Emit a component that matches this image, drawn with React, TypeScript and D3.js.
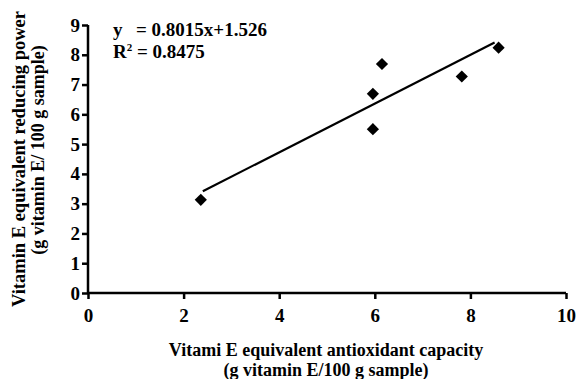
import { useEffect, useRef } from 'react';
import * as d3 from 'd3';

// data
const xValues = [2.36, 5.96, 5.96, 6.15, 7.82, 8.59];
const yValues = [3.13, 5.5, 6.69, 7.69, 7.27, 8.24];
const xTicks = [0, 2, 4, 6, 8, 10];
const yTicks = [0, 1, 2, 3, 4, 5, 6, 7, 8, 9];
const slope = 0.8015;
const intercept = 1.526;
const r2 = '0.8475';

export default function App() {
  const svgRef = useRef<SVGSVGElement>(null);

  useEffect(() => {
    const width = 576;
    const height = 379;
    const svg = d3.select(svgRef.current);
    svg.selectAll('*').remove();
    svg.attr('width', width).attr('height', height);

    const font = 'Liberation Serif';
    const margin = { top: 25, right: 9, bottom: 86, left: 88 };

    const x = d3.scaleLinear().domain([0, 10]).range([margin.left, width - margin.right - 1]);
    const y = d3.scaleLinear().domain([0, 9]).range([height - margin.bottom, margin.top]);

    // axes
    const xAxis = svg.append('g')
      .attr('transform', `translate(0,${y(0)})`)
      .call(d3.axisBottom(x).tickValues(xTicks).tickSize(6).tickPadding(10).tickFormat(d3.format('d')));
    const yAxis = svg.append('g')
      .attr('transform', `translate(${x(0)},0)`)
      .call(d3.axisLeft(y).tickValues(yTicks).tickSize(6).tickPadding(2).tickFormat(d3.format('d')));

    [xAxis, yAxis].forEach(ax => {
      ax.select('.domain').attr('stroke', '#000').attr('stroke-width', 2.5);
      ax.selectAll('.tick line').attr('stroke', '#000').attr('stroke-width', 2.5);
      ax.selectAll('.tick text')
        .attr('fill', '#000')
        .style('font-family', font)
        .style('font-weight', 'bold')
        .style('font-size', '19px');
    });
    // straight domain lines, no end hooks
    xAxis.select('.domain').attr('d', `M${x(0)},0H${x(10)}`);
    yAxis.select('.domain').attr('d', `M0,${y(0)}V${y(9)}`);

    // trend line
    const x0 = d3.min(xValues)!;
    const x1 = d3.max(xValues)!;
    svg.append('line')
      .attr('x1', x(x0) + 2)
      .attr('y1', y(slope * x0 + intercept))
      .attr('x2', x(x1) - 4)
      .attr('y2', y(slope * x1 + intercept))
      .attr('stroke', '#000')
      .attr('stroke-width', 2.2);

    // points
    const diamond = d3.symbol().type(d3.symbolDiamond2).size(95);
    svg.selectAll('path.pt')
      .data(xValues.map((v, i) => [v, yValues[i]]))
      .enter()
      .append('path')
      .attr('class', 'pt')
      .attr('d', diamond)
      .attr('transform', d => `translate(${x(d[0])},${y(d[1])})`)
      .attr('fill', '#000');

    const txt = (t: d3.Selection<SVGTextElement, unknown, null, undefined>, size = 19) =>
      t.style('font-family', font).style('font-weight', 'bold').style('font-size', `${size}px`)
        .attr('fill', '#000');

    // equation text
    const eq = txt(svg.append('text')).attr('x', 113).attr('y', 36);
    eq.append('tspan').text('y');
    eq.append('tspan').attr('x', 136).text(`= ${slope}x+${intercept}`);

    const rt = txt(svg.append('text')).attr('x', 113).attr('y', 58);
    rt.append('tspan').text('R');
    rt.append('tspan').style('font-size', '11px').attr('dy', -7).text('2');
    rt.append('tspan').attr('dy', 7).text(` = ${r2}`);

    // axis titles
    txt(svg.append('text'), 18).attr('text-anchor', 'middle')
      .attr('x', 326).attr('y', 356).text('Vitami E equivalent antioxidant capacity');
    txt(svg.append('text'), 18).attr('text-anchor', 'middle')
      .attr('x', 326).attr('y', 376).text('(g vitamin E/100 g sample)');

    txt(svg.append('text'), 18.5).attr('text-anchor', 'middle')
      .attr('transform', 'translate(25,159) rotate(-90)')
      .text('Vitamin E equivalent reducing power');
    txt(svg.append('text'), 18).attr('text-anchor', 'middle')
      .attr('transform', 'translate(44,150) rotate(-90)')
      .text('(g vitamin E/ 100 g sample)');
  }, []);

  return (
    <svg ref={svgRef} style={{ position: 'absolute', left: 0, top: 0, background: '#fff' }}></svg>
  );
}
